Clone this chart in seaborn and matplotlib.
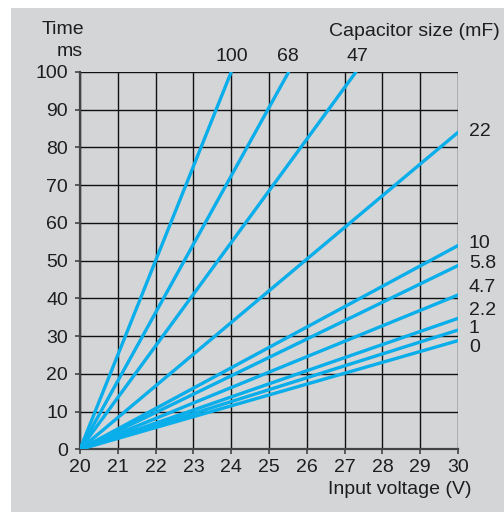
import matplotlib
matplotlib.use("Agg")
import matplotlib.pyplot as plt
import seaborn as sns
import pandas as pd
from matplotlib.patches import Rectangle

caps = ["100", "68", "47", "22", "10", "5.8", "4.7", "2.2", "1", "0"]
start_v = 20.0
start_t = 0.0
end_v = [24.0, 25.52, 27.30, 30.0, 30.0, 30.0, 30.0, 30.0, 30.0, 30.0]
end_t = [100.0, 100.0, 100.0, 84.0, 54.0, 48.7, 40.9, 34.7, 31.6, 28.8]

x_ticks = list(range(20, 31))
y_ticks = list(range(0, 101, 10))

rows = []
for c, ev, et in zip(caps, end_v, end_t):
    rows.append({"cap": c, "V": start_v, "T": start_t})
    rows.append({"cap": c, "V": ev, "T": et})
df = pd.DataFrame(rows)

sns.set_theme(style="white")
plt.rcParams["font.family"] = ["Liberation Sans", "DejaVu Sans"]

BG = "#d4d5d7"
LINE = "#09aeea"
TXT = "#1e1e1e"
FS = 14

fig = plt.figure(figsize=(5.04, 5.12), dpi=100)
fig.patch.set_facecolor("white")
fig.patches.append(Rectangle((11 / 504, 0), 1 - 11 / 504, 1 - 8 / 512,
                             transform=fig.transFigure, facecolor=BG,
                             edgecolor="none", zorder=-10))
ax = fig.add_axes([80 / 504, 1 - 449.3 / 512, (458 - 80) / 504, (449.3 - 72) / 512])
ax.set_facecolor(BG)

sns.lineplot(data=df, x="V", y="T", hue="cap", hue_order=caps,
             palette=[LINE] * len(caps), legend=False, ax=ax,
             linewidth=2.4, zorder=3, estimator=None, sort=False)

ax.set_xlim(20, 30)
ax.set_ylim(0, 100)
ax.set_xticks(x_ticks)
ax.set_yticks(y_ticks)
ax.grid(True, color="#111111", linewidth=1.0)
ax.set_axisbelow(True)
for s in ["top", "right"]:
    ax.spines[s].set_visible(False)
for s in ["left", "bottom"]:
    ax.spines[s].set_color("#444444")
    ax.spines[s].set_linewidth(1.6)
ax.tick_params(axis="both", direction="out", length=3.5, width=1.2,
               color="#444444", labelsize=FS, labelcolor=TXT,
               left=True, bottom=True)
ax.tick_params(axis="y", pad=5)
ax.tick_params(axis="x", pad=3.5)
ax.set_xlabel("")
ax.set_ylabel("")

# series labels
right_label_y = {"22": 84.1, "10": 54.6, "5.8": 49.2, "4.7": 42.8,
                 "2.2": 36.7, "1": 32.1, "0": 27.1}
for c, y in right_label_y.items():
    ax.text(30.29, y, c, fontsize=FS, color=TXT, ha="left", va="center",
            clip_on=False)
top_label_x = {"100": 24.02, "68": 25.5, "47": 27.33}
for c, x in top_label_x.items():
    ax.text(x, 104.0, c, fontsize=FS, color=TXT, ha="center", va="center",
            clip_on=False)

fig.text(63 / 504, 1 - 30 / 512, "Time", fontsize=FS, color=TXT,
         ha="center", va="center")
fig.text(70 / 504, 1 - 51 / 512, "ms", fontsize=FS, color=TXT,
         ha="center", va="center")
fig.text(500 / 504, 1 - 31 / 512, "Capacitor size (mF)", fontsize=FS,
         color=TXT, ha="right", va="center")
fig.text(471 / 504, 1 - 490 / 512, "Input voltage (V)", fontsize=FS,
         color=TXT, ha="right", va="center")

fig.savefig("out.png", dpi=100, facecolor=fig.get_facecolor())
